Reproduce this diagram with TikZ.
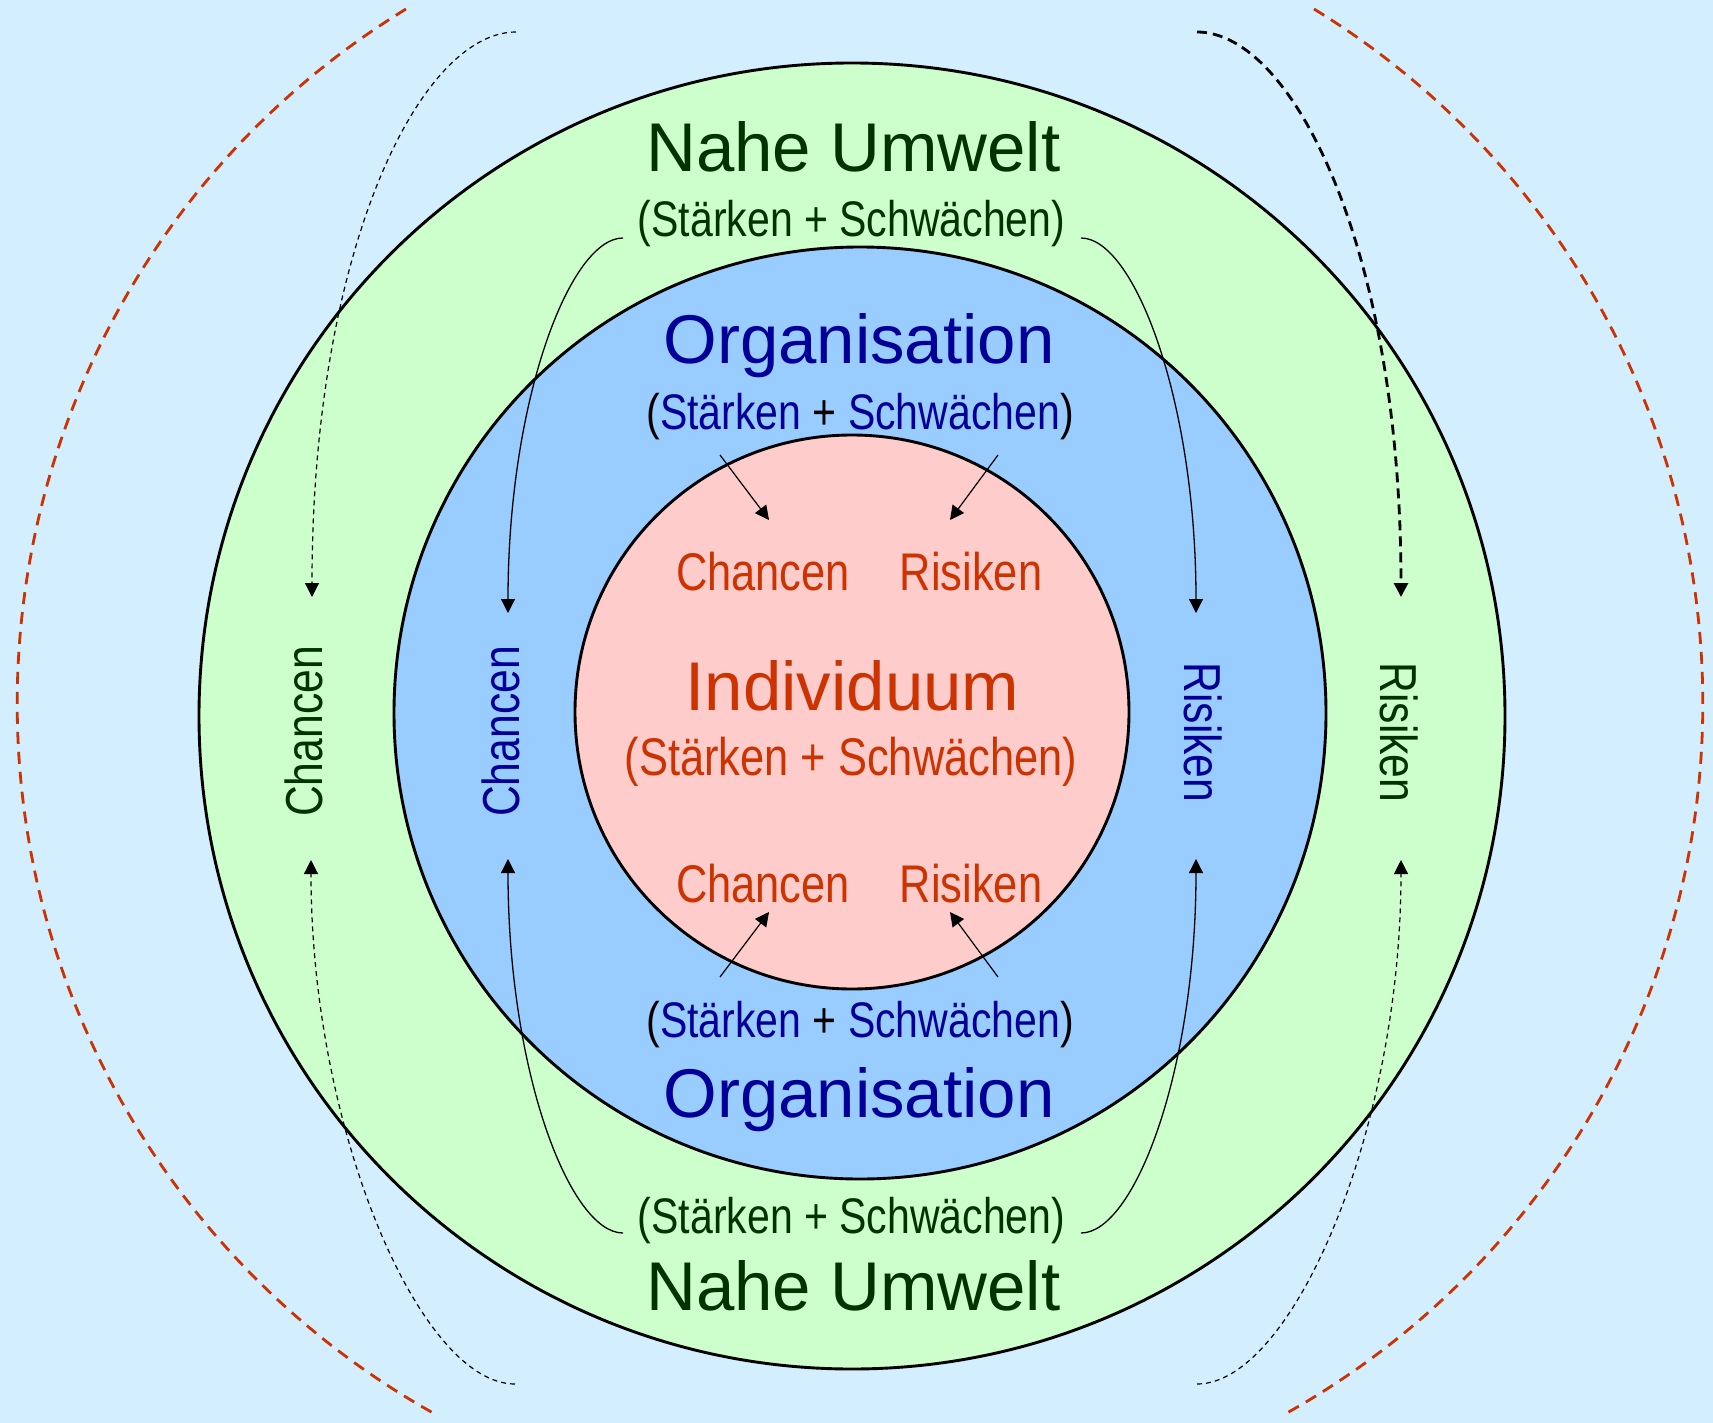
\documentclass[tikz,border=0pt]{standalone}
\usepackage{fontspec}
\setmainfont{Liberation Sans}
\newfontfamily\narrowfont[FakeStretch=0.82]{Liberation Sans}
\usetikzlibrary{arrows.meta}
\definecolor{sky}{HTML}{D2EEFF}
\definecolor{umwelt}{HTML}{CCFFCC}
\definecolor{orga}{HTML}{99CCFF}
\definecolor{indiv}{HTML}{FFCCCC}
\definecolor{dgreen}{HTML}{003300}
\definecolor{dblue}{HTML}{000099}
\definecolor{dred}{HTML}{CC3300}
\newcommand{\blk}[1]{{\color{black}#1}}
\tikzset{
  title/.style={inner sep=0pt, anchor=base, font=\fontsize{34.5}{40}\selectfont},
  sub/.style={inner sep=0pt, anchor=base, font=\narrowfont\fontsize{25}{30}\selectfont},
  lab/.style={inner sep=0pt, anchor=base, font=\narrowfont\fontsize{26.5}{30}\selectfont},
  side/.style={inner sep=0pt, font=\narrowfont\fontsize{26}{30}\selectfont},
  ring/.style={draw=black, line width=1.45pt},
  link/.style={line width=0.65pt, -{Triangle[length=7pt,width=7pt]}},
  dotlink/.style={link, line width=0.6pt, dash pattern=on 2.5pt off 2pt},
  dashlink/.style={link, line width=1.4pt, dash pattern=on 5pt off 3pt},
  border/.style={draw=dred, line width=1.4pt, dash pattern=on 6pt off 4pt}
}
\begin{document}
\begin{tikzpicture}
    \def\x{0.5pt}
    \def\y{-0.5pt}
    \fill[sky] (0,0) rectangle (1713*\x, 1423*\y);
    \useasboundingbox (0,0) rectangle (1713*\x, 1423*\y);
    % red borders
    \draw[border] (406*\x, 9*\y) arc[start angle=121.5, end angle=241, radius=814*\x];
    \draw[border] (1314*\x, 9*\y) arc[start angle=58.5, end angle=-61, radius=814*\x];
    % rings
    \filldraw[ring, fill=umwelt] (852*\x, 716*\y) circle[radius=653*\x];
    \filldraw[ring, fill=orga] (860*\x, 713*\y) circle[radius=466*\x];
    \filldraw[ring, fill=indiv] (852*\x, 712*\y) circle[radius=277*\x];
    % texts
    \node[title, dgreen] (Um_t) at (853.5*\x, 172*\y) {Nahe Umwelt};
    \node[sub, dgreen] (Us_t) at (851.5*\x, 237*\y) {(Stärken + Schwächen)};
    \node[title, dblue] (Or_t) at (859*\x, 364*\y) {Organisation};
    \node[sub, dblue] (Os_t) at (860*\x, 429*\y) {\blk{(}Stärken \blk{+} Schwächen\blk{)}};
    \node[lab, dred] (Ic_t) at (763*\x, 590*\y) {Chancen};
    \node[lab, dred] (Ir_t) at (971*\x, 590*\y) {Risiken};
    \node[title, dred] (In) at (852.5*\x, 710*\y) {Individuum};
    \node[lab, dred] (Is) at (851*\x, 775*\y) {(Stärken + Schwächen)};
    \node[lab, dred] (Ic_b) at (763*\x, 902*\y) {Chancen};
    \node[lab, dred] (Ir_b) at (971*\x, 902*\y) {Risiken};
    \node[sub, dblue] (Os_b) at (860*\x, 1037*\y) {\blk{(}Stärken \blk{+} Schwächen\blk{)}};
    \node[title, dblue] (Or_b) at (859*\x, 1117*\y) {Organisation};
    \node[sub, dgreen] (Us_b) at (851.5*\x, 1233*\y) {(Stärken + Schwächen)};
    \node[title, dgreen] (Um_b) at (853.5*\x, 1310*\y) {Nahe Umwelt};
    \node[side, dgreen, rotate=90] (Uc) at (304*\x, 731.5*\y) {Chancen};
    \node[side, dblue, rotate=90] (Oc) at (501*\x, 731.5*\y) {Chancen};
    \node[side, dblue, rotate=-90] (Or) at (1203.5*\x, 732.5*\y) {Risiken};
    \node[side, dgreen, rotate=-90] (Ur) at (1399*\x, 732.5*\y) {Risiken};
    % ends of the links
    \coordinate (e_tl) at (516*\x, 32*\y);
    \coordinate (e_tr) at (1197*\x, 32*\y);
    \coordinate (e_bl) at (515*\x, 1384*\y);
    \coordinate (e_br) at (1197*\x, 1384*\y);
    \coordinate (Uc_t) at (312*\x, 597*\y);
    \coordinate (Uc_b) at (311*\x, 860*\y);
    \coordinate (Ur_t) at (1401*\x, 597*\y);
    \coordinate (Ur_b) at (1401*\x, 860*\y);
    \coordinate (s_tl) at (623*\x, 238*\y);
    \coordinate (s_tr) at (1081*\x, 238*\y);
    \coordinate (s_bl) at (623*\x, 1233*\y);
    \coordinate (s_br) at (1081*\x, 1233*\y);
    \coordinate (Oc_t) at (508*\x, 613*\y);
    \coordinate (Oc_b) at (508*\x, 859*\y);
    \coordinate (Or_t) at (1196*\x, 613*\y);
    \coordinate (Or_b) at (1196*\x, 859*\y);
    \coordinate (a_tl) at (720*\x, 455*\y);
    \coordinate (a_tr) at (998*\x, 455*\y);
    \coordinate (a_bl) at (720*\x, 977*\y);
    \coordinate (a_br) at (998*\x, 977*\y);
    \coordinate (Ic_tt) at (769*\x, 520*\y);
    \coordinate (Ir_tt) at (950*\x, 520*\y);
    \coordinate (Ic_bb) at (769*\x, 912*\y);
    \coordinate (Ir_bb) at (950*\x, 912*\y);
    % outer links
    \draw[dotlink] (e_tl) .. controls (420*\x, 32*\y) and (312*\x, 250*\y) .. (Uc_t);
    \draw[dashlink] (e_tr) .. controls (1293*\x, 32*\y) and (1401*\x, 250*\y) .. (Ur_t);
    \draw[dotlink] (e_bl) .. controls (420*\x, 1384*\y) and (311*\x, 1130*\y) .. (Uc_b);
    \draw[dotlink] (e_br) .. controls (1292*\x, 1384*\y) and (1401*\x, 1130*\y) .. (Ur_b);
    % inner links
    \draw[link] (s_tl) .. controls (570*\x, 238*\y) and (508*\x, 400*\y) .. (Oc_t);
    \draw[link] (s_tr) .. controls (1134*\x, 238*\y) and (1196*\x, 400*\y) .. (Or_t);
    \draw[link] (s_bl) .. controls (570*\x, 1233*\y) and (508*\x, 1072*\y) .. (Oc_b);
    \draw[link] (s_br) .. controls (1134*\x, 1233*\y) and (1196*\x, 1072*\y) .. (Or_b);
    \draw[link, line width=0.6pt] (a_tl) -- (Ic_tt);
    \draw[link, line width=0.6pt] (a_tr) -- (Ir_tt);
    \draw[link, line width=0.6pt] (a_bl) -- (Ic_bb);
    \draw[link, line width=0.6pt] (a_br) -- (Ir_bb);
  \end{tikzpicture}
\end{document}
